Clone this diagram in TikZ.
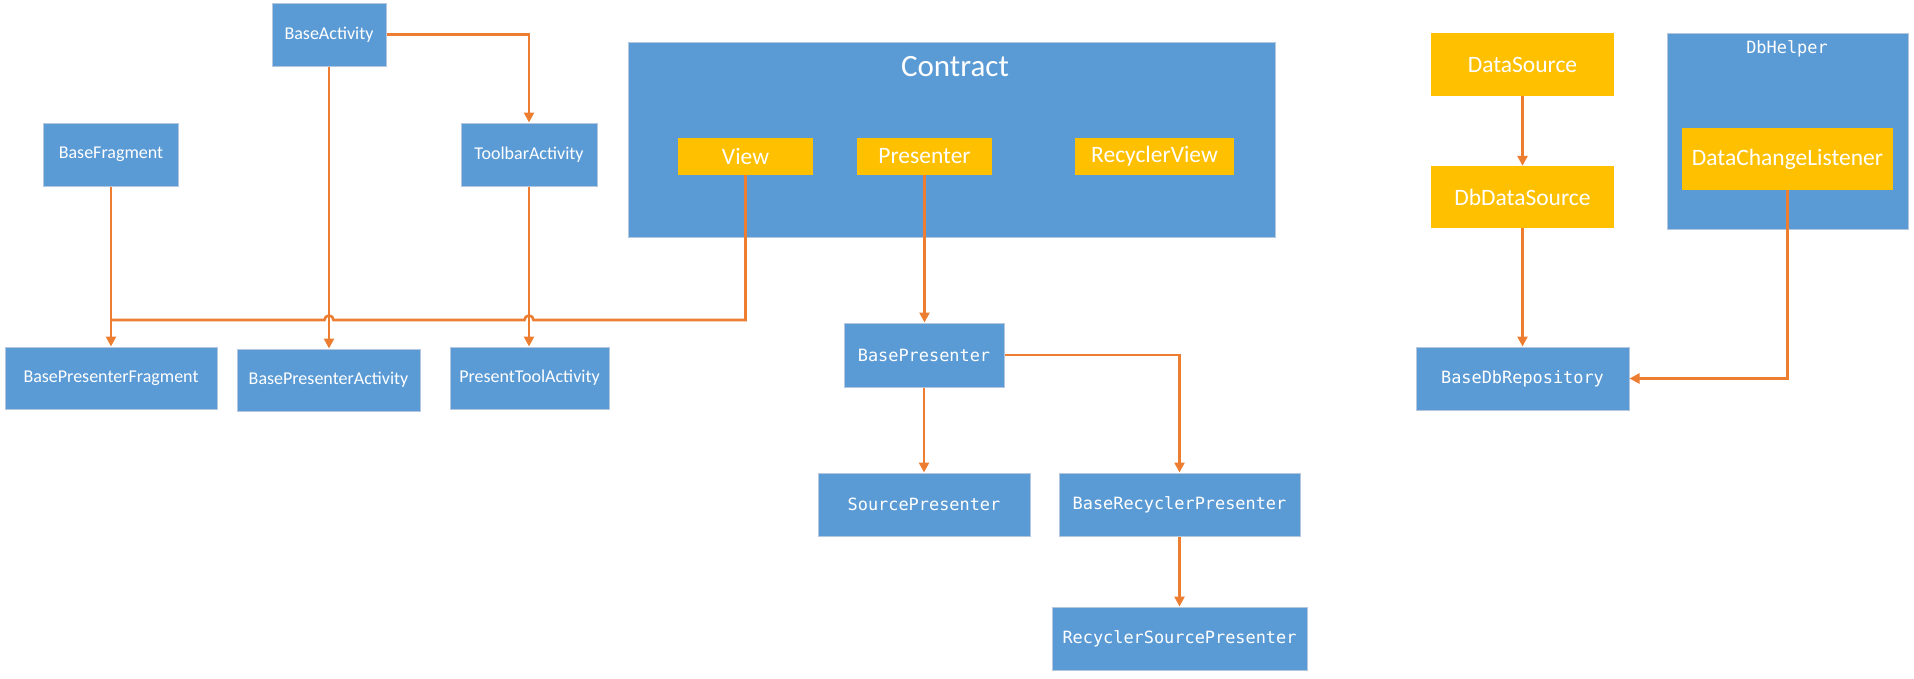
\documentclass[tikz,border=0pt]{standalone}
\usepackage{fontspec}
\setmainfont{Carlito}
\newfontfamily\codefont{DejaVu Sans Mono}
\usetikzlibrary{arrows.meta,calc}
\definecolor{boxblue}{RGB}{91,155,213}
\definecolor{boxyellow}{RGB}{255,192,0}
\definecolor{linkorange}{RGB}{237,125,49}
\definecolor{boxedge}{RGB}{180,199,222}
\tikzset{
  bluebox/.style={rectangle, fill=boxblue, draw=boxedge, line width=1pt, text=white, inner sep=0pt, font=\fontsize{18}{20}\selectfont},
  codebox/.style={bluebox, font=\codefont\fontsize{16.9}{19}\selectfont},
  yellowbox/.style={rectangle, fill=boxyellow, text=white, inner sep=0pt, font=\fontsize{23.5}{26}\selectfont},
  conn/.style={draw=linkorange, line width=2.6pt},
  arr/.style={conn, -{Triangle[length=10pt,width=10pt]}},
}
\begin{document}
\begin{tikzpicture}[x=1pt,y=-1pt]
\useasboundingbox (0,0) rectangle (1914,678);
% left group
\node[bluebox, minimum width=114pt, minimum height=63pt] (BaseActivity) at (329,34.5) {BaseActivity};
\node[bluebox, minimum width=135pt, minimum height=63pt] (BaseFragment) at (111,154.5) {BaseFragment};
\node[bluebox, minimum width=136pt, minimum height=63pt] (ToolbarActivity) at (529,154.5) {ToolbarActivity};
\node[bluebox, minimum width=212pt, minimum height=62pt] (BasePresenterFragment) at (111,378) {BasePresenterFragment};
\node[bluebox, minimum width=183pt, minimum height=62pt] (BasePresenterActivity) at (328.5,380) {BasePresenterActivity};
\node[bluebox, minimum width=159pt, minimum height=62pt] (PresentToolActivity) at (529.5,378) {PresentToolActivity};
% contract
\node[bluebox, minimum width=647pt, minimum height=195pt] (Contract) at (951.5,139.5) {};
\node[text=white, font=\fontsize{31}{34}\selectfont, inner sep=0pt] (ContractTitle) at (955,67) {Contract};
\node[yellowbox, minimum width=135pt, minimum height=37pt] (View) at (745.5,156.5) {View};
\node[yellowbox, minimum width=135pt, minimum height=37pt] (Presenter) at (924.5,156.5) {Presenter};
\node[yellowbox, minimum width=159pt, minimum height=37pt] (RecyclerView) at (1154.5,156.5) {RecyclerView};
% presenters
\node[codebox, minimum width=160pt, minimum height=64pt] (BasePresenter) at (924,355) {BasePresenter};
\node[codebox, minimum width=212pt, minimum height=63pt] (SourcePresenter) at (924,504.5) {SourcePresenter};
\node[codebox, minimum width=241pt, minimum height=63pt] (BaseRecyclerPresenter) at (1179.5,504.5) {BaseRecyclerPresenter};
\node[codebox, minimum width=255pt, minimum height=63pt] (RecyclerSourcePresenter) at (1179.5,638.5) {RecyclerSourcePresenter};
% data
\node[yellowbox, minimum width=183pt, minimum height=63pt] (DataSource) at (1522.5,64.5) {DataSource};
\node[yellowbox, minimum width=183pt, minimum height=62pt] (DbDataSource) at (1522.5,197) {DbDataSource};
\node[codebox, minimum width=213pt, minimum height=63pt] (BaseDbRepository) at (1522.5,378.5) {BaseDbRepository};
\node[codebox, minimum width=241pt, minimum height=196pt] (DbHelper) at (1787.5,131) {};
\node[text=white, font=\codefont\fontsize{16.9}{19}\selectfont, inner sep=0pt] (DbHelperTitle) at (1787,49) {DbHelper};
\node[yellowbox, minimum width=211pt, minimum height=62pt] (DataChangeListener) at (1787.5,159) {DataChangeListener};
% connectors
\coordinate (hl) at (0,320);
\draw[conn] (View.south) -- (View.south |- hl)
  -- ([xshift=4.5pt]ToolbarActivity.south |- hl) arc[start angle=0,end angle=180,radius=4.5pt]
  -- ([xshift=4.5pt]BaseActivity.south |- hl) arc[start angle=0,end angle=180,radius=4.5pt]
  -- (BaseFragment.south |- hl);
\draw[arr] (BaseActivity.east) -| (ToolbarActivity.north);
\draw[arr] (BaseActivity.south) -- (BaseActivity.south |- BasePresenterActivity.north);
\draw[arr] (ToolbarActivity.south) -- (ToolbarActivity.south |- PresentToolActivity.north);
\draw[arr] (BaseFragment.south) -- (BaseFragment.south |- BasePresenterFragment.north);
\draw[arr] (Presenter.south) -- (Presenter.south |- BasePresenter.north);
\draw[arr] (BasePresenter.south) -- (SourcePresenter.north);
\draw[arr] (BasePresenter.east) -| (BaseRecyclerPresenter.north);
\draw[arr] (BaseRecyclerPresenter.south) -- (RecyclerSourcePresenter.north);
\draw[arr] (DataSource.south) -- (DbDataSource.north);
\draw[arr] (DbDataSource.south) -- (BaseDbRepository.north);
\draw[arr] (DataChangeListener.south) |- (BaseDbRepository.east);
\end{tikzpicture}
\end{document}
